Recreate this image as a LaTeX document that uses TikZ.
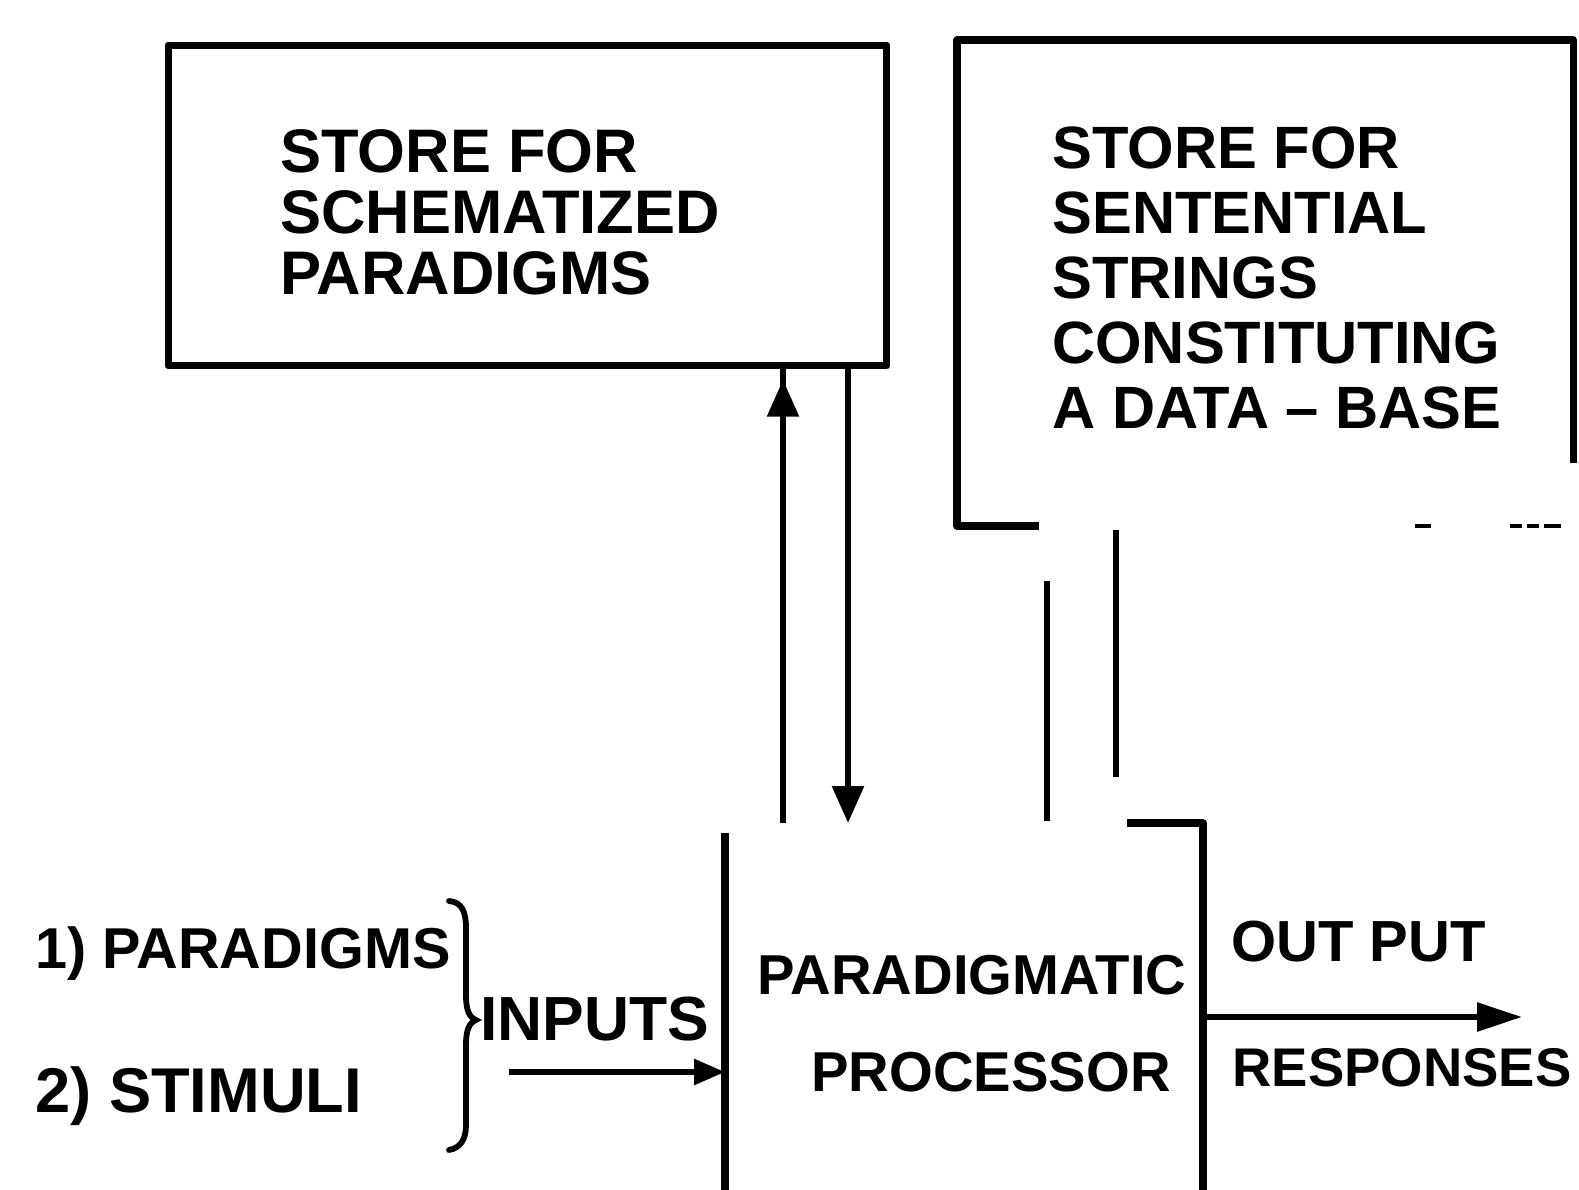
\documentclass[tikz,border=0pt]{standalone}
\usepackage{fontspec}
\setmainfont{Liberation Sans}
\usetikzlibrary{arrows.meta,decorations.markings}

\begin{document}
\begin{tikzpicture}[x=0.02cm,y=-0.02cm,
  frame/.style={line width=4pt, line join=round},
  link/.style={line width=3.3pt},
  thin dash/.style={line width=1.8pt},
  bigtip/.tip={Triangle[length=0.74cm,width=0.62cm]},
  lbl/.style={inner sep=0pt, anchor=north west, align=left},
  big/.style={font=\bfseries\fontsize{35}{34.7}\selectfont},
  mid/.style={font=\bfseries\fontsize{34}{37}\selectfont},
]
\useasboundingbox (0,0) rectangle (1579,1190);

% store for schematized paradigms
\node[draw, frame, minimum width=14.38cm, minimum height=6.42cm, inner sep=0pt]
  (schema) at (527.5,205.5) {};
\node[lbl, big] (schematxt) at (280,129) {STORE FOR\\SCHEMATIZED\\PARADIGMS};

% store for sentential strings (open frame)
\coordinate (dbBL) at (957,526);
\coordinate (dbBR) at (1039,526);
\coordinate (dbTL) at (957,40);
\coordinate (dbTR) at (1573,40);
\coordinate (dbRE) at (1573,463);
\draw[frame] (dbBR) -- (dbBL) -- (dbTL) -- (dbTR) -- (dbRE);
\node[lbl, mid] (dbtxt) at (1052,126)
  {STORE FOR\\SENTENTIAL\\STRINGS\\CONSTITUTING\\A DATA -- BASE};
\coordinate (d1a) at (1415,526); \coordinate (d1b) at (1431,526);
\coordinate (d2a) at (1510,526); \coordinate (d2b) at (1522,526);
\coordinate (d3a) at (1527,526); \coordinate (d3b) at (1539,526);
\coordinate (d4a) at (1544,526); \coordinate (d4b) at (1561,526);
\draw[thin dash] (d1a) -- (d1b) (d2a) -- (d2b) (d3a) -- (d3b) (d4a) -- (d4b);

% paradigmatic processor (open frame)
\coordinate (prLT) at (725,833);
\coordinate (prLB) at (725,1196);
\coordinate (prTa) at (1127,823);
\coordinate (prTR) at (1203,823);
\coordinate (prRB) at (1203,1196);
\draw[frame] (prLT) -- (prLB);
\draw[frame] (prTa) -- (prTR) -- (prRB);
\node[lbl, font=\bfseries\fontsize{32}{32}\selectfont] (proc1) at (757,955) {PARADIGMATIC};
\node[lbl, font=\bfseries\fontsize{32}{32}\selectfont] (proc2) at (811,1052) {PROCESSOR};

% links between the stores and the processor
\coordinate (schemaS1) at (783,366);
\coordinate (schemaS2) at (848,366);
\coordinate (procN1) at (783,823);
\coordinate (procN2) at (848,823);
\draw[link, postaction={decorate}, decoration={markings,
  mark=at position 0.97 with {\arrow{bigtip}}}] (procN1) -- (schemaS1);
\draw[link, -{bigtip}] (schemaS2) -- (procN2);

\coordinate (dbS1) at (1047,581);
\coordinate (procN3) at (1047,821);
\coordinate (dbS2) at (1116,530);
\coordinate (dbS2end) at (1116,777);
\draw[link] (dbS1) -- (procN3);
\draw[link] (dbS2) -- (dbS2end);

% inputs
\node[lbl, font=\bfseries\fontsize{32.8}{32.8}\selectfont] (in1) at (35,926) {1) PARADIGMS};
\node[lbl, font=\bfseries\fontsize{36}{36}\selectfont] (in2) at (35,1066) {2) STIMULI};
\coordinate (brTop) at (449,901);
\coordinate (brTip) at (476,1020);
\coordinate (brBot) at (449,1150);
\draw[link, line cap=round]
  (brTop) .. controls (462,902) and (466,912) .. (466,928)
  -- (466,995) .. controls (466,1010) and (469,1017) .. (brTip)
  .. controls (469,1023) and (466,1030) .. (466,1045)
  -- (466,1125) .. controls (466,1140) and (460,1148) .. (brBot);
\node[lbl, font=\bfseries\fontsize{35.5}{35.5}\selectfont] (inputs) at (480,997) {INPUTS};
\coordinate (inStart) at (509,1072);
\coordinate (procW) at (725,1072);
\draw[link, -{Triangle[length=0.62cm,width=0.5cm]}] (inStart) -- (procW);

% output
\coordinate (procE) at (1203,1017);
\coordinate (outEnd) at (1522,1017);
\draw[link, -{Triangle[length=0.9cm,width=0.56cm]}] (procE) -- (outEnd);
\node[lbl, font=\bfseries\fontsize{33}{33}\selectfont] (outtxt) at (1231,921) {OUT PUT};
\node[lbl, font=\bfseries\fontsize{31}{31}\selectfont] (resptxt) at (1232,1048) {RESPONSES};
\end{tikzpicture}
\end{document}
